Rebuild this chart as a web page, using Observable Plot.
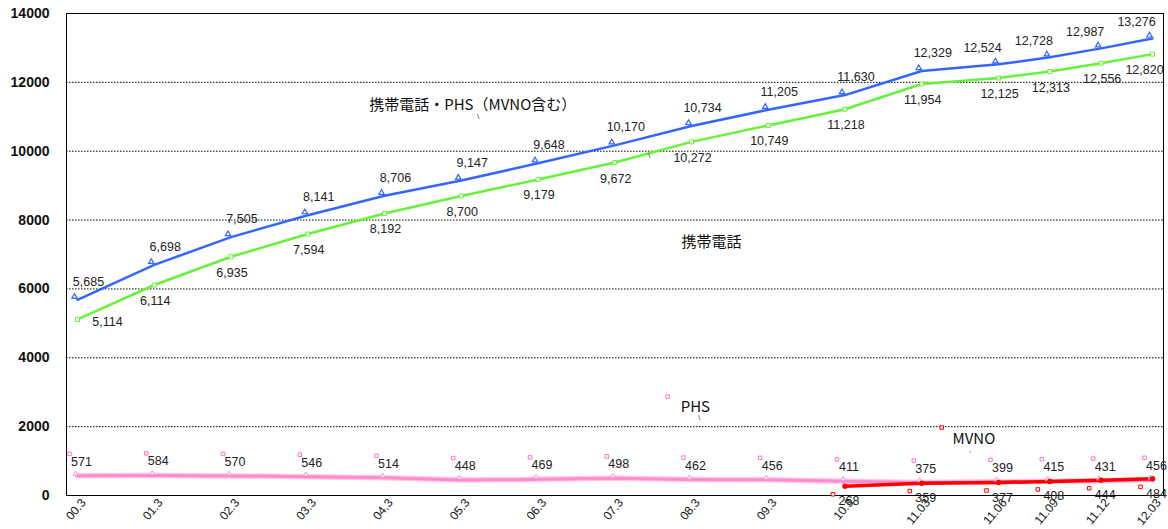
<!DOCTYPE html>
<html>
<head>
<meta charset="utf-8">
<script src="https://cdn.jsdelivr.net/npm/d3@7"></script>
<script src="https://cdn.jsdelivr.net/npm/@observablehq/plot@0.6"></script>
<style>
  html, body { margin: 0; padding: 0; background: #fff; }
</style>
</head>
<body>
<div id="chart"></div>
<script>
// ---- data ----
const categories = ["00.3","01.3","02.3","03.3","04.3","05.3","06.3","07.3","08.3","09.3","10.3","11.03","11.06","11.09","11.12","12.03"];
const totalSeries = [5685, 6698, 7505, 8141, 8706, 9147, 9648, 10170, 10734, 11205, 11630, 12329, 12524, 12728, 12987, 13276];
const mobileSeries = [5114, 6114, 6935, 7594, 8192, 8700, 9179, 9672, 10272, 10749, 11218, 11954, 12125, 12313, 12556, 12820];
const phsSeries = [571, 584, 570, 546, 514, 448, 469, 498, 462, 456, 411, 375, 399, 415, 431, 456];
const mvnoSeries = [null, null, null, null, null, null, null, null, null, null, 268, 359, 377, 408, 444, 484];
const yTicks = [0, 2000, 4000, 6000, 8000, 10000, 12000, 14000];
const gridTicks = [2000, 4000, 6000, 8000, 10000, 12000];
// series name labels (x as category index, y as value)
const seriesNames = [
  {name: "携帯電話・PHS（MVNO含む）", i: 5.15, v: 11330},
  {name: "携帯電話", i: 8.26, v: 7350},
  {name: "PHS", i: 8.05, v: 2560},
  {name: "MVNO", i: 11.68, v: 1630}
];
const nameKeys = [
  {i: 7.69, v: 2875, color: "#ff77cc"},
  {i: 11.26, v: 1975, color: "#ff0000"}
];
const leaders = [
  {i: 5.22, v: 10990, t: "\\"},
  {i: 7.45, v: 9880, t: "\\"},
  {i: 8.1, v: 2250, t: "\\"},
  {i: 11.63, v: 1220, t: "'"}
];

// ---- build rows ----
const rows = (arr) => arr.map((v, i) => ({i, c: categories[i], v})).filter(d => d.v != null);
const total = rows(totalSeries);
const mobile = rows(mobileSeries);
const phs = rows(phsSeries);
const mvno = rows(mvnoSeries);
const last = categories.length - 1;

const fmt = d3.format(",");
const W = 1168, H = 529;
const numFont = "Liberation Sans, Arial, sans-serif";
const jpFont = "Noto Sans CJK JP, sans-serif";

const blue = "#3366ff", green = "#66f23a", pink = "#ff8ccc", red = "#ff0000";
const lbl = {fontSize: 12.5, fill: "#222"};

const chart = Plot.plot({
  width: W,
  height: H,
  marginLeft: 66,
  marginRight: 5,
  marginTop: 13,
  marginBottom: 34,
  style: {fontFamily: numFont, background: "#fff", overflow: "visible"},
  x: {type: "linear", domain: [0, 12, 15], range: [77, 998, 1152]},
  y: {domain: [0, 14000]},
  marks: [
    Plot.ruleY(gridTicks, {stroke: "#000", strokeWidth: 1, strokeDasharray: "1.5,1.5"}),
    Plot.frame({stroke: "#000", strokeWidth: 1}),
    Plot.axisY({ticks: yTicks, tickSize: 0, tickPadding: 17, tickFormat: d3.format("d"),
      fontSize: 14, fontWeight: "bold", fill: "#111", label: null}),
    Plot.axisX({ticks: categories.map((_, i) => i), tickFormat: i => categories[i], tickSize: 0,
      tickPadding: 5, tickRotate: -50, dx: 6, fontSize: 12, fill: "#111", label: null}),

    // lines
    Plot.line(total, {x: "i", y: "v", stroke: blue, strokeWidth: 2.5}),
    Plot.line(mobile, {x: "i", y: "v", stroke: green, strokeWidth: 2.5}),
    Plot.line(phs, {x: "i", y: "v", stroke: "#ffc6e6", strokeWidth: 5.5}),
    Plot.line(phs, {x: "i", y: "v", stroke: pink, strokeWidth: 3}),
    Plot.line(mvno, {x: "i", y: "v", stroke: red, strokeWidth: 3.5}),

    // markers
    Plot.dot(total, {x: "i", y: "v", symbol: "triangle", r: 2, fill: "#fff", stroke: blue, strokeWidth: 1.2, dx: -3, dy: -3}),
    Plot.dot(mobile, {x: "i", y: "v", symbol: "square", r: 2.3, fill: "#fff", stroke: green, strokeWidth: 1}),
    Plot.dot(phs, {x: "i", y: "v", symbol: "triangle", r: 1.8, fill: "#fff", stroke: pink, strokeWidth: 1, dx: -2, dy: -2}),
    Plot.dot(mvno, {x: "i", y: "v", symbol: "circle", r: 2, fill: red, stroke: red}),

    // label keys
    Plot.dot(phs, {x: "i", y: "v", symbol: "square", r: 2, fill: "#fff", stroke: "#ff77cc", strokeWidth: 1, dx: -8, dy: -22}),
    Plot.dot(mvno, {x: "i", y: "v", symbol: "square", r: 2, fill: "#fff", stroke: red, strokeWidth: 1, dx: -12, dy: 8}),
    Plot.dot(nameKeys, {x: "i", y: "v", symbol: "square", r: 2, fill: "#fff", stroke: d => d.color, strokeWidth: 1}),

    // value labels
    Plot.text(total.filter(d => d.i <= 11), {x: "i", y: "v", text: d => fmt(d.v), dx: 11, dy: -18, ...lbl}),
    Plot.text(total.filter(d => d.i > 11), {x: "i", y: "v", text: d => fmt(d.v), dx: -16, dy: -16, ...lbl}),
    Plot.text(mobile.filter(d => d.i === 0), {x: "i", y: "v", text: d => fmt(d.v), dx: 30, dy: 3, ...lbl}),
    Plot.text(mobile.filter(d => d.i > 0 && d.i < last), {x: "i", y: "v", text: d => fmt(d.v), dx: 1, dy: 16, ...lbl}),
    Plot.text(mobile.filter(d => d.i === last), {x: "i", y: "v", text: d => fmt(d.v), dx: -8, dy: 16, ...lbl}),
    Plot.text(phs, {x: "i", y: "v", text: d => fmt(d.v), dx: 4, dy: -14, ...lbl}),
    Plot.text(mvno, {x: "i", y: "v", text: d => fmt(d.v), dx: 4, dy: 15, ...lbl}),

    // series names
    Plot.text(seriesNames, {x: "i", y: "v", text: "name", fontSize: 15, fontFamily: jpFont, fill: "#111"}),
    Plot.text(leaders, {x: "i", y: "v", text: "t", fontSize: 7, fill: "#111"})
  ]
});
document.getElementById("chart").appendChild(chart);
</script>
</body>
</html>
